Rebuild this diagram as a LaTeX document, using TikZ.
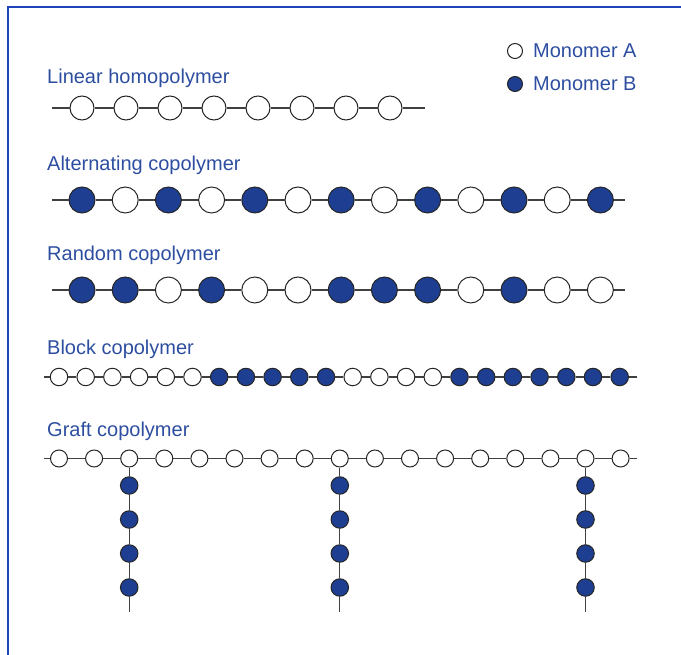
\documentclass[tikz,border=0pt]{standalone}
\usepackage{fontspec}
\setmainfont{Liberation Sans}
\usetikzlibrary{positioning}
\definecolor{monoblue}{RGB}{30,62,145}
\definecolor{labelblue}{RGB}{45,78,160}
\definecolor{frameblue}{RGB}{30,70,185}

\begin{document}
\begin{tikzpicture}[x=1pt, y=-1pt, node distance=10pt,
					every node/.style={inner sep=0pt},
					lbl/.style={text=labelblue, font=\fontsize{20}{23}\selectfont},
					monoA/.style={circle, draw=black!85, line width=1pt, fill=white, minimum size=25pt},
					monoB/.style={monoA, fill=monoblue},
					shrunk/.style={minimum size=17.5pt},
					bond/.style={draw=black!75, line width=1.1pt}
				]
				\useasboundingbox (0,0) rectangle (681,655);
				\draw[draw=frameblue, line width=2pt] (7.5,655) -- (7.5,7.5) -- (681,7.5);
				
				% key
				\node[monoA, minimum size=15pt] (keyA) at (515,51) {};
				\node[monoB, minimum size=15pt] (keyB) at (515,84) {};
				\node[lbl, right=of keyA] (keyAtxt) {Monomer A};
				\node[lbl, right=of keyB] (keyBtxt) {Monomer B};
				
				% linear homopolymer
				\node[lbl, anchor=base west] (linlbl) at (47,84) {Linear homopolymer};
				\coordinate (lin0) at (52,108);
				\foreach \i in {1,...,8}
					\node[monoA, minimum size=24pt] (lin\i) at ({82+44*(\i-1)},108) {};
				\coordinate (lin9) at (425,108);
				\foreach \i [count=\j from 0] in {1,...,9}
					\draw[bond] (lin\j) -- (lin\i);
				
				% alternating copolymer
				\node[lbl, anchor=base west] (altlbl) at (47,171) {Alternating copolymer};
				\coordinate (alt0) at (52,200);
				\foreach \t [count=\i] in {B,A,B,A,B,A,B,A,B,A,B,A,B}
					\node[mono\t, minimum size=26pt] (alt\i) at ({82+43.2*(\i-1)},200) {};
				\coordinate (alt14) at (625,200);
				\foreach \i [count=\j from 0] in {1,...,14}
					\draw[bond] (alt\j) -- (alt\i);
				
				% random copolymer
				\node[lbl, anchor=base west] (rndlbl) at (47,261) {Random copolymer};
				\coordinate (rnd0) at (52,290);
				\foreach \t [count=\i] in {B,B,A,B,A,A,B,B,B,A,B,A,A}
					\node[mono\t, minimum size=26pt] (rnd\i) at ({82+43.2*(\i-1)},290) {};
				\coordinate (rnd14) at (625,290);
				\foreach \i [count=\j from 0] in {1,...,14}
					\draw[bond] (rnd\j) -- (rnd\i);
				
				% block copolymer
				\node[lbl, anchor=base west] (blklbl) at (47,355) {Block copolymer};
				\coordinate (blk0) at (44,377);
				\foreach \t [count=\i] in {A,A,A,A,A,A,B,B,B,B,B,A,A,A,A,B,B,B,B,B,B,B}
					\node[mono\t, shrunk] (blk\i) at ({59+26.7*(\i-1)},377) {};
				\coordinate (blk23) at (637,377);
				\foreach \i [count=\j from 0] in {1,...,23}
					\draw[bond] (blk\j) -- (blk\i);
				
				% graft copolymer: backbone
				\node[lbl, anchor=base west] (grflbl) at (47,437) {Graft copolymer};
				\coordinate (grf0) at (44,458.5);
				\foreach \i in {1,...,17}
					\node[monoA, minimum size=17pt] (grf\i) at ({59+35.1*(\i-1)},458.5) {};
				\coordinate (grf18) at (637,458.5);
				\foreach \i [count=\j from 0] in {1,...,18}
					\draw[bond] (grf\j) -- (grf\i);
				
				% graft copolymer: side chains
				\foreach \k in {3,9,16} {
					\foreach \n in {1,...,4}
						\node[monoB, shrunk] (br\k-\n) at ([yshift={-(27+34*(\n-1))}]grf\k) {};
					\coordinate (br\k-5) at ([yshift=-153.5]grf\k);
					\draw[bond, line width=1pt] (grf\k) -- (br\k-1) -- (br\k-2) -- (br\k-3) -- (br\k-4) -- (br\k-5);
				}
			\end{tikzpicture}
\end{document}
